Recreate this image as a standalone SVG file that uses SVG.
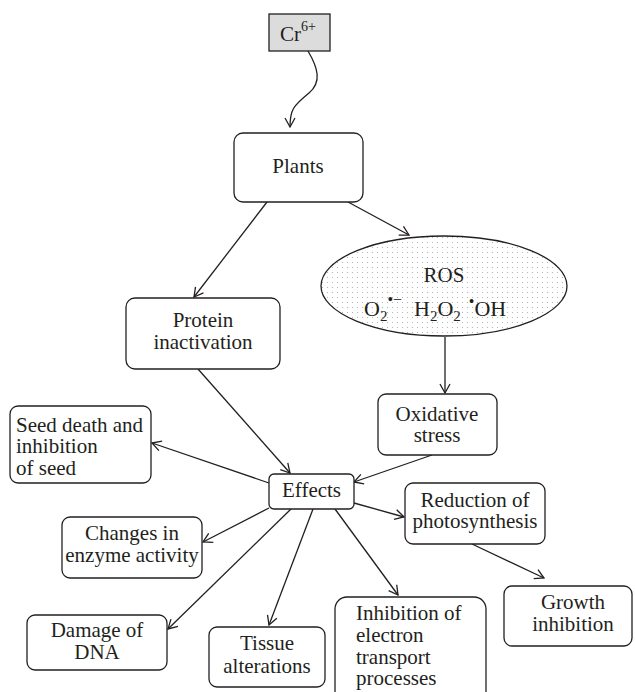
<svg xmlns="http://www.w3.org/2000/svg" width="635" height="692" viewBox="0 0 635 692">
<style>
.box{fill:#fff;stroke:#231f20;stroke-width:1.3}
.t{font-size:21px;fill:#231f20}
.m{text-anchor:middle}
.c{fill:none;stroke:#231f20;stroke-width:1.3}
</style>
<defs>
<marker id="ah" markerUnits="userSpaceOnUse" markerWidth="14" markerHeight="14" refX="10" refY="6" orient="auto">
<path d="M1,1 L10,6 L1,11" fill="none" stroke="#231f20" stroke-width="1.3"/>
</marker>
<pattern id="dots" patternUnits="userSpaceOnUse" width="5" height="5">
<rect width="5" height="5" fill="#fff"/>
<circle cx="2.5" cy="2.5" r="0.6" fill="#a8a8a8"/>
</pattern>
</defs>
<g id="connectors">
<path class="c" d="M308,51 C318,68 322,82 309,93 C293,106 290,110 290,127" marker-end="url(#ah)"/>
<line class="c" x1="267" y1="202" x2="194" y2="297" marker-end="url(#ah)"/>
<line class="c" x1="348" y1="202" x2="409" y2="235" marker-end="url(#ah)"/>
<line class="c" x1="445" y1="337" x2="445" y2="393" marker-end="url(#ah)"/>
<line class="c" x1="198" y1="369" x2="290" y2="473" marker-end="url(#ah)"/>
<line class="c" x1="432" y1="455" x2="354" y2="482" marker-end="url(#ah)"/>
<line class="c" x1="269" y1="483" x2="152" y2="443" marker-end="url(#ah)"/>
<line class="c" x1="269" y1="508" x2="203" y2="542" marker-end="url(#ah)"/>
<line class="c" x1="291" y1="509" x2="168" y2="629" marker-end="url(#ah)"/>
<line class="c" x1="313" y1="509" x2="269" y2="625" marker-end="url(#ah)"/>
<line class="c" x1="335" y1="509" x2="398" y2="595" marker-end="url(#ah)"/>
<line class="c" x1="354" y1="503" x2="404" y2="517" marker-end="url(#ah)"/>
<line class="c" x1="472" y1="544" x2="544" y2="578" marker-end="url(#ah)"/>
</g>
<g font-family="'Liberation Serif', 'DejaVu Serif', serif">
<g id="cr6">
<rect x="269" y="14" width="61" height="37" fill="#dcdcdc" stroke="#231f20" stroke-width="1.3"/>
<text class="t" x="280" y="41">Cr<tspan font-size="14" dy="-10">6+</tspan></text>
</g>
<g id="plants">
<rect class="box" x="234" y="133" width="129" height="69" rx="9"/>
<text class="t m" x="298" y="173">Plants</text>
</g>
<g id="protein">
<rect class="box" x="126" y="298" width="154" height="71" rx="9"/>
<text class="t m" x="203" y="327">Protein</text>
<text class="t m" x="203" y="349">inactivation</text>
</g>
<g id="ros">
<ellipse cx="444" cy="286" rx="123" ry="50" fill="url(#dots)" stroke="#231f20" stroke-width="1.3"/>
<text class="t m" x="444" y="282">ROS</text>
<text class="t" x="364" y="316" style="font-size:22px">O<tspan font-size="15" dy="5">2</tspan><tspan font-size="16" dy="-16">•−</tspan><tspan dy="11" dx="12">H</tspan><tspan font-size="15" dy="5">2</tspan><tspan dy="-5">O</tspan><tspan font-size="15" dy="5">2</tspan><tspan font-size="16" dy="-14" dx="8">•</tspan><tspan dy="9">OH</tspan></text>
</g>
<g id="oxidative">
<rect class="box" x="378" y="394" width="119" height="61" rx="8"/>
<text class="t m" x="437" y="421">Oxidative</text>
<text class="t m" x="437" y="442">stress</text>
</g>
<g id="effects">
<rect class="box" x="269" y="474" width="85" height="35" rx="5"/>
<text class="t m" x="311.5" y="497">Effects</text>
</g>
<g id="seed">
<rect class="box" x="10" y="406" width="141" height="77" rx="8"/>
<text class="t" x="16" y="432">Seed death and</text>
<text class="t" x="16" y="453">inhibition</text>
<text class="t" x="16" y="475">of seed</text>
</g>
<g id="changes">
<rect class="box" x="62" y="517" width="140" height="61" rx="8"/>
<text class="t m" x="132" y="540">Changes in</text>
<text class="t m" x="132" y="562">enzyme activity</text>
</g>
<g id="damage">
<rect class="box" x="27" y="615" width="140" height="55" rx="8"/>
<text class="t m" x="97" y="637">Damage of</text>
<text class="t m" x="97" y="659">DNA</text>
</g>
<g id="tissue">
<rect class="box" x="209" y="627" width="116" height="60" rx="8"/>
<text class="t m" x="267" y="650">Tissue</text>
<text class="t m" x="267" y="673">alterations</text>
</g>
<g id="inhibition">
<rect class="box" x="335" y="597" width="151" height="110" rx="12"/>
<text class="t" x="356" y="620">Inhibition of</text>
<text class="t" x="356" y="642">electron</text>
<text class="t" x="356" y="664">transport</text>
<text class="t" x="356" y="685">processes</text>
</g>
<g id="reduction">
<rect class="box" x="405" y="483" width="140" height="61" rx="8"/>
<text class="t m" x="475" y="507">Reduction of</text>
<text class="t m" x="475" y="528">photosynthesis</text>
</g>
<g id="growth">
<rect class="box" x="504" y="586" width="128" height="60" rx="8"/>
<text class="t m" x="573" y="609">Growth</text>
<text class="t m" x="573" y="631">inhibition</text>
</g>
</g>
</svg>
